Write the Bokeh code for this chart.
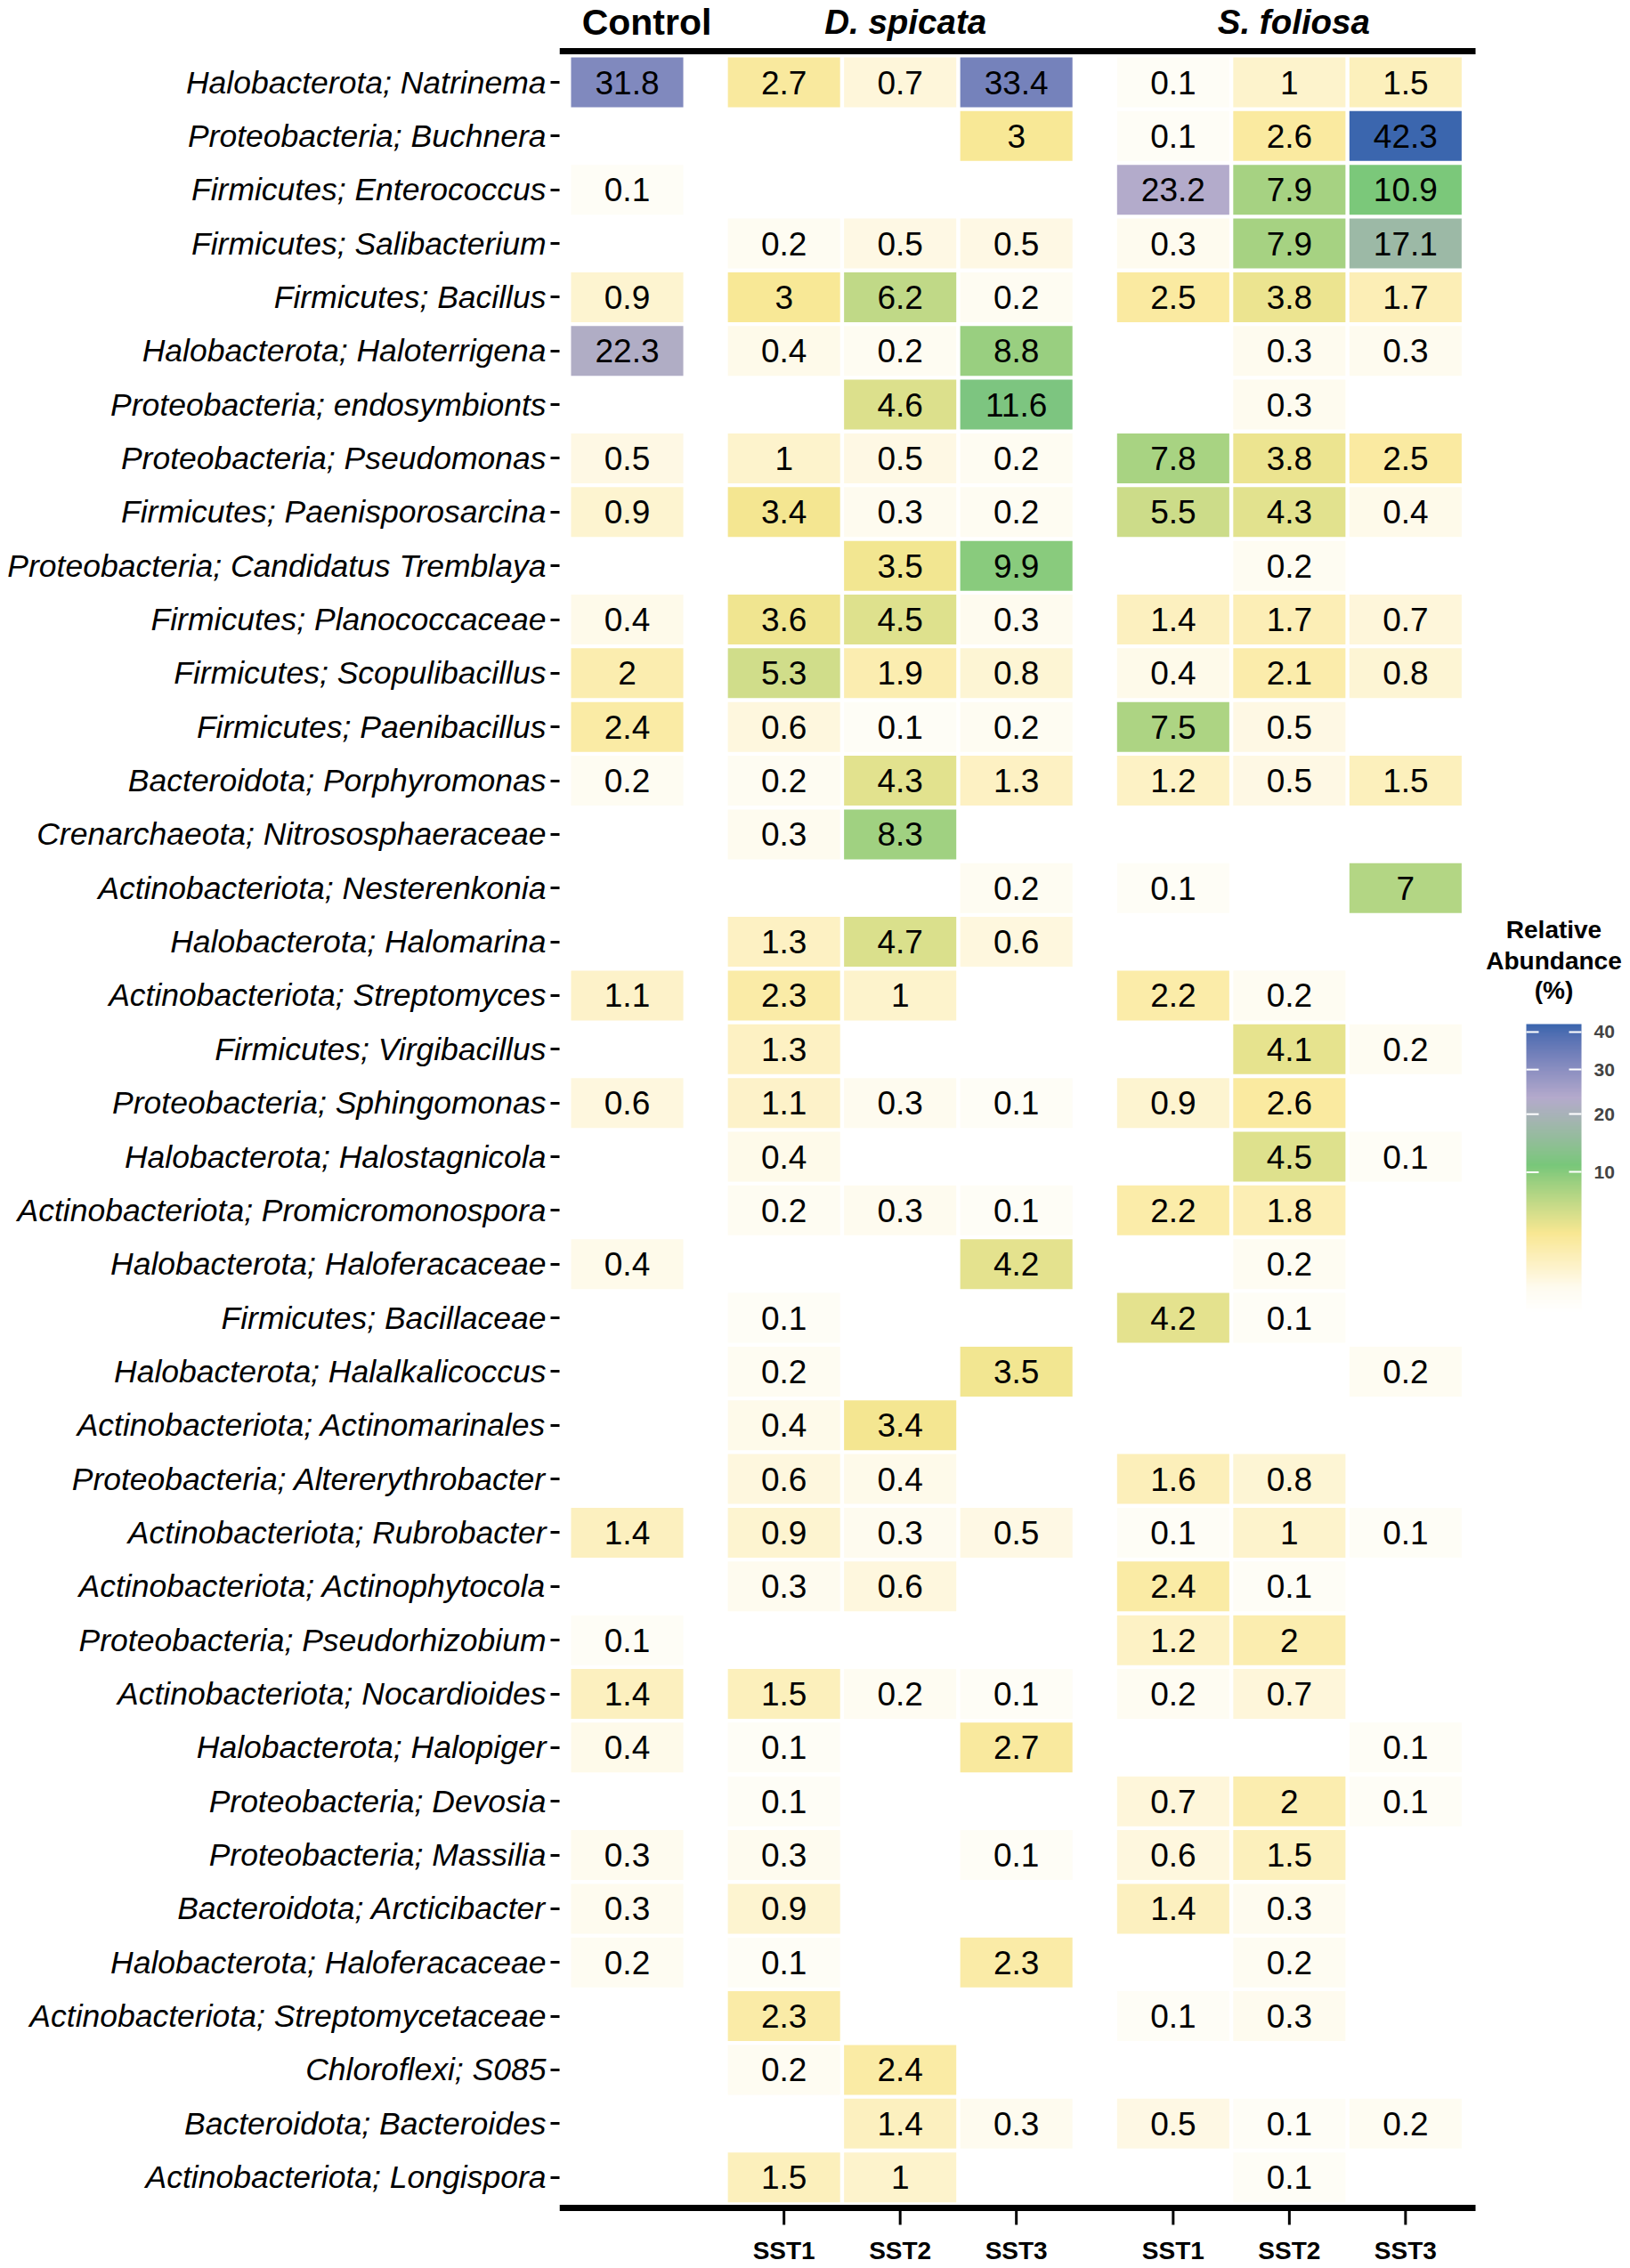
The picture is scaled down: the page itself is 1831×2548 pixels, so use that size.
import math
from bokeh.plotting import figure
from bokeh.models import (Range1d, FixedTicker, ColumnDataSource,
                          LinearColorMapper, ColorBar, CustomJSTickFormatter)
from bokeh.core.properties import value
from bokeh.embed import file_html
from bokeh.resources import INLINE

# ---------------- data ----------------
taxa = [
    "Halobacterota; Natrinema", "Proteobacteria; Buchnera", "Firmicutes; Enterococcus",
    "Firmicutes; Salibacterium", "Firmicutes; Bacillus", "Halobacterota; Haloterrigena",
    "Proteobacteria; endosymbionts", "Proteobacteria; Pseudomonas", "Firmicutes; Paenisporosarcina",
    "Proteobacteria; Candidatus Tremblaya", "Firmicutes; Planococcaceae", "Firmicutes; Scopulibacillus",
    "Firmicutes; Paenibacillus", "Bacteroidota; Porphyromonas", "Crenarchaeota; Nitrososphaeraceae",
    "Actinobacteriota; Nesterenkonia", "Halobacterota; Halomarina", "Actinobacteriota; Streptomyces",
    "Firmicutes; Virgibacillus", "Proteobacteria; Sphingomonas", "Halobacterota; Halostagnicola",
    "Actinobacteriota; Promicromonospora", "Halobacterota; Haloferacaceae", "Firmicutes; Bacillaceae",
    "Halobacterota; Halalkalicoccus", "Actinobacteriota; Actinomarinales", "Proteobacteria; Altererythrobacter",
    "Actinobacteriota; Rubrobacter", "Actinobacteriota; Actinophytocola", "Proteobacteria; Pseudorhizobium",
    "Actinobacteriota; Nocardioides", "Halobacterota; Halopiger", "Proteobacteria; Devosia",
    "Proteobacteria; Massilia", "Bacteroidota; Arcticibacter", "Halobacterota; Haloferacaceae",
    "Actinobacteriota; Streptomycetaceae", "Chloroflexi; S085", "Bacteroidota; Bacteroides",
    "Actinobacteriota; Longispora",
]
N = None
control = [31.8, N, 0.1, N, 0.9, 22.3, N, 0.5, 0.9, N, 0.4, 2, 2.4, 0.2, N, N, N, 1.1, N, 0.6,
           N, N, 0.4, N, N, N, N, 1.4, N, 0.1, 1.4, 0.4, N, 0.3, 0.3, 0.2, N, N, N, N]
ds_sst1 = [2.7, N, N, 0.2, 3, 0.4, N, 1, 3.4, N, 3.6, 5.3, 0.6, 0.2, 0.3, N, 1.3, 2.3, 1.3, 1.1,
           0.4, 0.2, N, 0.1, 0.2, 0.4, 0.6, 0.9, 0.3, N, 1.5, 0.1, 0.1, 0.3, 0.9, 0.1, 2.3, 0.2, N, 1.5]
ds_sst2 = [0.7, N, N, 0.5, 6.2, 0.2, 4.6, 0.5, 0.3, 3.5, 4.5, 1.9, 0.1, 4.3, 8.3, N, 4.7, 1, N, 0.3,
           N, 0.3, N, N, N, 3.4, 0.4, 0.3, 0.6, N, 0.2, N, N, N, N, N, N, 2.4, 1.4, 1]
ds_sst3 = [33.4, 3, N, 0.5, 0.2, 8.8, 11.6, 0.2, 0.2, 9.9, 0.3, 0.8, 0.2, 1.3, N, 0.2, 0.6, N, N, 0.1,
           N, 0.1, 4.2, N, 3.5, N, N, 0.5, N, N, 0.1, 2.7, N, 0.1, N, 2.3, N, N, 0.3, N]
sf_sst1 = [0.1, 0.1, 23.2, 0.3, 2.5, N, N, 7.8, 5.5, N, 1.4, 0.4, 7.5, 1.2, N, 0.1, N, 2.2, N, 0.9,
           N, 2.2, N, 4.2, N, N, 1.6, 0.1, 2.4, 1.2, 0.2, N, 0.7, 0.6, 1.4, N, 0.1, N, 0.5, N]
sf_sst2 = [1, 2.6, 7.9, 7.9, 3.8, 0.3, 0.3, 3.8, 4.3, 0.2, 1.7, 2.1, 0.5, 0.5, N, N, N, 0.2, 4.1, 2.6,
           4.5, 1.8, 0.2, 0.1, N, N, 0.8, 1, 0.1, 2, 0.7, N, 2, 1.5, 0.3, 0.2, 0.3, N, 0.1, 0.1]
sf_sst3 = [1.5, 42.3, 10.9, 17.1, 1.7, 0.3, N, 2.5, 0.4, N, 0.7, 0.8, N, 1.5, N, 7, N, N, 0.2, N,
           0.1, N, N, N, 0.2, N, N, 0.1, N, N, N, 0.1, 0.1, N, N, N, N, N, 0.2, N]

columns = [control, ds_sst1, ds_sst2, ds_sst3, sf_sst1, sf_sst2, sf_sst3]
column_group = [0, 1, 1, 1, 2, 2, 2]
group_titles = ["Control", "D. spicata", "S. foliosa"]
sample_labels = [None, "SST1", "SST2", "SST3", "SST1", "SST2", "SST3"]
legend_title = ["Relative", "Abundance", "(%)"]
colorbar_ticks = [10, 20, 30, 40]
scale_max = 42.3
# colour stops of the gradient (value, colour); interpolated in Lab on a sqrt scale
colour_stops = [(0, "#ffffff"), (0.3, "#fefbef"), (1, "#fdf3cc"), (3.2, "#f8e792"),
                (11, "#78c77a"), (23.5, "#b4aacc"), (42.3, "#3b66ae")]

# ---------------- layout (page pixels) ----------------
PITCH_X, PITCH_Y = 130.5, 60.35
GROUP_GAP = 0.35
COL0_PX, ROW0_PY = 704, 92
FIG_W, FIG_H = 1831, 2548
FR_L = 628                 # left edge of plotting frame
PANEL_R = 1657             # right end of the horizontal rules
TOP_RULE, BOTTOM_RULE = 57, 2480
CB_L, CB_B, CB_W, CB_H = 1714, 1474, 62, 324


def px2x(px):
    return (px - COL0_PX) / PITCH_X


def py2y(py):
    return (py - ROW0_PY) / PITCH_Y


col_x = [i + GROUP_GAP * g for i, g in enumerate(column_group)]

# ---------------- colour palette ----------------
def _lin(c):
    return c / 12.92 if c <= 0.04045 else ((c + 0.055) / 1.055) ** 2.4


def _gam(c):
    c = max(0.0, min(1.0, c))
    return 12.92 * c if c <= 0.0031308 else 1.055 * c ** (1 / 2.4) - 0.055


def hex2lab(h):
    r, g, b = (_lin(int(h[i:i + 2], 16) / 255) for i in (1, 3, 5))
    X = (0.4124 * r + 0.3576 * g + 0.1805 * b) / 0.95047
    Y = 0.2126 * r + 0.7152 * g + 0.0722 * b
    Z = (0.0193 * r + 0.1192 * g + 0.9505 * b) / 1.08883
    f = lambda t: t ** (1 / 3) if t > (6 / 29) ** 3 else t / (3 * (6 / 29) ** 2) + 4 / 29
    fx, fy, fz = f(X), f(Y), f(Z)
    return 116 * fy - 16, 500 * (fx - fy), 200 * (fy - fz)


def lab2hex(L, a, b):
    fy = (L + 16) / 116
    fx, fz = fy + a / 500, fy - b / 200
    fi = lambda t: t ** 3 if t > 6 / 29 else 3 * (6 / 29) ** 2 * (t - 4 / 29)
    X, Y, Z = 0.95047 * fi(fx), fi(fy), 1.08883 * fi(fz)
    r = 3.2406 * X - 1.5372 * Y - 0.4986 * Z
    g = -0.9689 * X + 1.8758 * Y + 0.0415 * Z
    bb = 0.0557 * X - 0.2040 * Y + 1.0570 * Z
    return "#%02x%02x%02x" % tuple(int(round(_gam(c) * 255)) for c in (r, g, bb))


smax = math.sqrt(scale_max)
stops = [(math.sqrt(v), hex2lab(c)) for v, c in colour_stops]
palette = []
for k in range(256):
    s = smax * k / 255
    for (s0, c0), (s1, c1) in zip(stops[:-1], stops[1:]):
        if s0 <= s <= s1 + 1e-9:
            t = min(1.0, (s - s0) / (s1 - s0))
            palette.append(lab2hex(*[c0[j] + t * (c1[j] - c0[j]) for j in range(3)]))
            break
mapper = LinearColorMapper(palette=palette, low=0, high=smax)

# ---------------- data source ----------------
xs, ys, svals, labels = [], [], [], []
for ci, col in enumerate(columns):
    for ri, v in enumerate(col):
        if v is None:
            continue
        xs.append(col_x[ci])
        ys.append(ri)
        svals.append(math.sqrt(v))
        labels.append(f"{v:g}")
src = ColumnDataSource(dict(x=xs, y=ys, sv=svals, label=labels))

# ---------------- figure ----------------
p = figure(width=FIG_W, height=FIG_H, output_backend="svg", toolbar_location=None,
           x_range=Range1d(px2x(FR_L), px2x(FIG_W)), y_range=Range1d(py2y(FIG_H), py2y(0)),
           x_axis_location=None, y_axis_location="left",
           min_border_left=FR_L, min_border_top=0, min_border_right=0, min_border_bottom=0)
p.outline_line_color = None
p.grid.visible = False
p.background_fill_color = "white"
p.border_fill_color = "white"

# heatmap cells and their values
p.rect(x="x", y="y", width=0.966, height=0.928, source=src,
       fill_color={"field": "sv", "transform": mapper}, line_color=None)
p.text(x="x", y="y", text="label", source=src, text_align="center", text_baseline="middle",
       text_font=value("Liberation Sans"), text_font_size="37px", text_color="black")

# y axis with taxa
ya = p.yaxis[0]
ya.ticker = FixedTicker(ticks=list(range(len(taxa))))
ya.major_label_overrides = {i: t for i, t in enumerate(taxa)}
ya.axis_line_color = None
ya.major_tick_out = 10
ya.major_tick_in = 0
ya.major_tick_line_width = 3
ya.minor_tick_line_color = None
ya.major_label_standoff = 5
ya.major_label_text_font = "Liberation Sans"
ya.major_label_text_font_style = "italic"
ya.major_label_text_font_size = "35.5px"
ya.major_label_text_color = "black"

# horizontal rules (top and bottom of the panel)
x_left, x_right = px2x(FR_L), px2x(PANEL_R)
p.segment(x0=[x_left, x_left], x1=[x_right, x_right],
          y0=[py2y(TOP_RULE), py2y(BOTTOM_RULE)], y1=[py2y(TOP_RULE), py2y(BOTTOM_RULE)],
          line_color="black", line_width=7)

# bottom ticks and sample labels
sst_x = [x for x, l in zip(col_x, sample_labels) if l]
sst_t = [l for l in sample_labels if l]
p.segment(x0=sst_x, x1=sst_x, y0=[py2y(BOTTOM_RULE)] * len(sst_x),
          y1=[py2y(BOTTOM_RULE + 19)] * len(sst_x), line_color="black", line_width=3)
p.text(x=sst_x, y=[py2y(2528)] * len(sst_x), text=sst_t, text_align="center",
       text_baseline="middle", text_font=value("Liberation Sans"),
       text_font_size="28px", text_font_style="bold", text_color="black")

# group titles
title_offsets = [22, 6, 5]
gx = [sum(x for x, gg in zip(col_x, column_group) if gg == g) /
      column_group.count(g) for g in range(len(group_titles))]
p.text(x=gx[:1], y=[py2y(24)], text=group_titles[:1], x_offset=title_offsets[0],
       text_align="center", text_baseline="middle", text_font=value("Liberation Sans"),
       text_font_size="41px", text_font_style="bold", text_color="black")
for g in (1, 2):
    p.text(x=[gx[g]], y=[py2y(24)], text=[group_titles[g]], x_offset=title_offsets[g],
           text_align="center", text_baseline="middle", text_font=value("Liberation Sans"),
           text_font_size="38.5px", text_font_style="bold italic", text_color="black")

# legend title
p.text(x=[px2x(1745)] * 3, y=[py2y(v) for v in (1044, 1079, 1112)], text=legend_title,
       text_align="center", text_baseline="middle", text_font=value("Liberation Sans"),
       text_font_size="28px", text_font_style="bold", text_color="black")

cb = ColorBar(color_mapper=mapper, orientation="vertical",
              ticker=FixedTicker(ticks=[math.sqrt(t) for t in colorbar_ticks]),
              formatter=CustomJSTickFormatter(code="return Math.round(tick*tick).toString();"),
              width=CB_W, height=CB_H, padding=0,
              location=(CB_L - FR_L, FIG_H - CB_B),
              bar_line_color=None, border_line_color=None, background_fill_alpha=0,
              major_tick_line_color="white", major_tick_line_width=2,
              major_tick_in=14, major_tick_out=0, minor_tick_line_color=None,
              major_label_text_font="Liberation Sans", major_label_text_font_size="21px",
              major_label_text_font_style="bold", label_standoff=14)
p.add_layout(cb, "center")

# white ticks on the left edge of the colour bar
tick_y = [py2y(CB_B - CB_H * math.sqrt(t) / smax) for t in colorbar_ticks]
p.segment(x0=[px2x(CB_L)] * 4, x1=[px2x(CB_L + 14)] * 4, y0=tick_y, y1=tick_y,
          line_color="white", line_width=2, level="overlay")

open("out.html", "w").write(file_html(p, INLINE))
